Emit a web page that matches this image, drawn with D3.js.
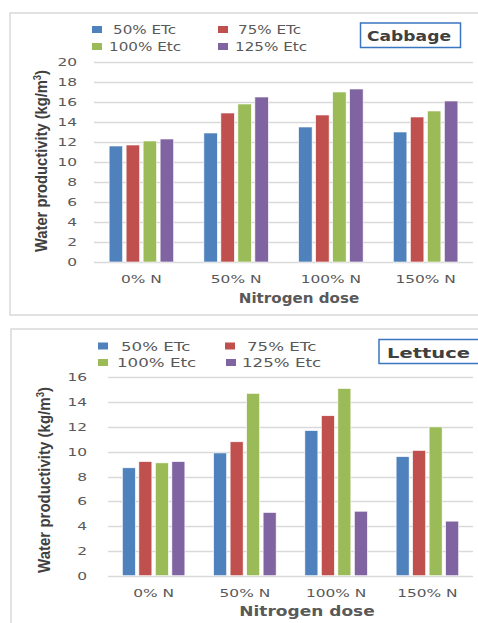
<!DOCTYPE html>
<html><head><meta charset="utf-8">
<script src="https://cdn.jsdelivr.net/npm/d3@7"></script>
<style>html,body{margin:0;padding:0;background:#fff;overflow:hidden}</style>
</head><body>
<svg id="c" width="478" height="623"></svg>
<script>
const categories = ["0% N", "50% N", "100% N", "150% N"];
const seriesNames = ["50% ETc", "75% ETc", "100% Etc", "125% Etc"];
const colors = ["#4f81bd", "#c0504d", "#9bbb59", "#8064a2"];

// Cabbage values per series (one array each)
const cabbage50 = [11.6, 12.9, 13.5, 13.0];
const cabbage75 = [11.7, 14.9, 14.7, 14.5];
const cabbage100 = [12.1, 15.8, 17.0, 15.1];
const cabbage125 = [12.3, 16.5, 17.3, 16.1];
const cabbageTicks = [0, 2, 4, 6, 8, 10, 12, 14, 16, 18, 20];

// Lettuce values per series
const lettuce50 = [8.7, 9.9, 11.7, 9.6];
const lettuce75 = [9.2, 10.8, 12.9, 10.1];
const lettuce100 = [9.1, 14.7, 15.1, 12.0];
const lettuce125 = [9.2, 5.1, 5.2, 4.4];
const lettuceTicks = [0, 2, 4, 6, 8, 10, 12, 14, 16];

const svg = d3.select("#c");
const TXT = "#595959";

function txt(g, x, y, s, o) {
  o = o || {};
  const sx = o.sx || 1.35;
  const t = g.append("text")
    .attr("transform", `translate(${x},${y}) scale(${sx},1)` + (o.rot ? ` rotate(${o.rot})` : ""))
    .attr("x", 0).attr("y", 0)
    .attr("font-family", o.family || "DejaVu Sans")
    .attr("font-size", o.size || 11)
    .attr("font-weight", o.weight || "normal")
    .attr("text-anchor", o.anchor || "start")
    .attr("fill", o.fill || TXT)
    .text(s);
  if (o.len) t.attr("textLength", o.len).attr("lengthAdjust", "spacingAndGlyphs");
  return t;
}

function chart(cfg) {
  const g = svg.append("g");
  // panel
  g.append("rect").attr("x", cfg.panel[0]).attr("y", cfg.panel[1])
    .attr("width", cfg.panel[2]).attr("height", cfg.panel[3])
    .attr("fill", "#fff").attr("stroke", "#d9d9d9").attr("stroke-width", 1.5);

  const x = d3.scaleBand().domain(categories).range([cfg.x0, cfg.x1]).padding(0);
  const y = d3.scaleLinear().domain([0, d3.max(cfg.ticks)]).range([cfg.y0, cfg.y1]);
  const inner = d3.scaleBand().domain(seriesNames)
    .range([-cfg.group / 2, cfg.group / 2]).paddingInner(cfg.pin).paddingOuter(0);

  // gridlines
  g.append("g").selectAll("line").data(cfg.ticks).join("line")
    .attr("x1", cfg.x0).attr("x2", cfg.x1)
    .attr("y1", d => Math.round(y(d)) + 0.5).attr("y2", d => Math.round(y(d)) + 0.5)
    .attr("stroke", "#d9d9d9").attr("stroke-width", 1.3);

  // y tick labels
  cfg.ticks.forEach(t => txt(g, cfg.tickX, y(t) + 4, String(t), {anchor: "end", size: 11, sx: 1.4}));

  // bars
  const rows = [];
  cfg.series.forEach((vals, si) => vals.forEach((v, ci) => rows.push({s: seriesNames[si], c: categories[ci], v, si})));
  g.append("g").selectAll("rect").data(rows).join("rect")
    .attr("x", d => x(d.c) + x.bandwidth() / 2 + inner(d.s))
    .attr("width", inner.bandwidth())
    .attr("y", d => y(d.v))
    .attr("height", d => y(0) - y(d.v))
    .attr("fill", d => colors[d.si])
    .attr("stroke", "#fff").attr("stroke-width", 0.6);

  // x tick labels
  categories.forEach(c => txt(g, x(c) + x.bandwidth() / 2, cfg.xLabY, c, {anchor: "middle", size: 11, sx: 1.4}));
  txt(g, cfg.xTitle[0], cfg.xTitle[1], "Nitrogen dose", {anchor: "middle", size: 13.5, weight: "bold", sx: cfg.xTitle[2]});

  // y title
  const yt = g.append("text")
    .attr("transform", `translate(${cfg.yTitle[0]},${cfg.yTitle[1]}) scale(1.3,1) rotate(-90)`)
    .attr("font-family", "Liberation Sans").attr("font-weight", "bold").attr("font-size", 12.5)
    .attr("text-anchor", "middle").attr("fill", "#404040")
    .attr("textLength", cfg.yTitle[2]).attr("lengthAdjust", "spacingAndGlyphs");
  yt.append("tspan").text("Water productivity (kg/m");
  yt.append("tspan").attr("font-size", 8).attr("dy", -5).text("3");
  yt.append("tspan").attr("dy", 5).text(")");

  // legend
  cfg.legend.forEach((L, i) => {
    g.append("rect").attr("x", L[0]).attr("y", L[1]).attr("width", 10).attr("height", 7).attr("fill", colors[i]);
    txt(g, L[2], L[3], seriesNames[i], {size: 11.5, sx: cfg.legSx});
  });

  // title box
  const b = cfg.box;
  g.append("rect").attr("x", b[0]).attr("y", b[1]).attr("width", b[2]).attr("height", b[3])
    .attr("fill", "#fff").attr("stroke", "#3a76c0").attr("stroke-width", 1.5);
  txt(g, b[4], b[5], cfg.name, {anchor: "start", size: 14, weight: "bold", sx: 1.3, fill: "#404040", len: b[6] / 1.3});
}

chart({
  name: "Cabbage",
  panel: [10, 13, 480, 302],
  x0: 94, x1: 473, y0: 262, y1: 62,
  group: 64.5, pin: 0.206,
  ticks: cabbageTicks,
  series: [cabbage50, cabbage75, cabbage100, cabbage125],
  tickX: 77, xLabY: 283, xTitle: [299, 303, 1.12],
  yTitle: [47, 161, 182],
  legSx: 1.32,
  legend: [[92, 26, 113, 34], [218, 26, 238, 34], [92, 43, 109, 50.5], [218, 43, 235, 50.5]],
  box: [360.5, 23, 100, 24.5, 367, 40.7, 84]
});

chart({
  name: "Lettuce",
  panel: [11, 329, 480, 310],
  x0: 108, x1: 473, y0: 575.7, y1: 377.3,
  group: 62.5, pin: 0.212,
  ticks: lettuceTicks,
  series: [lettuce50, lettuce75, lettuce100, lettuce125],
  tickX: 87, xLabY: 597, xTitle: [307, 616, 1.26],
  yTitle: [50, 480, 186],
  legSx: 1.45,
  legend: [[98, 342.5, 121, 351], [225, 342.5, 247, 351], [98, 359, 117, 367], [226, 359, 242, 367]],
  box: [379, 339.5, 100, 24, 387, 357.5, 83]
});
</script>
</body></html>
